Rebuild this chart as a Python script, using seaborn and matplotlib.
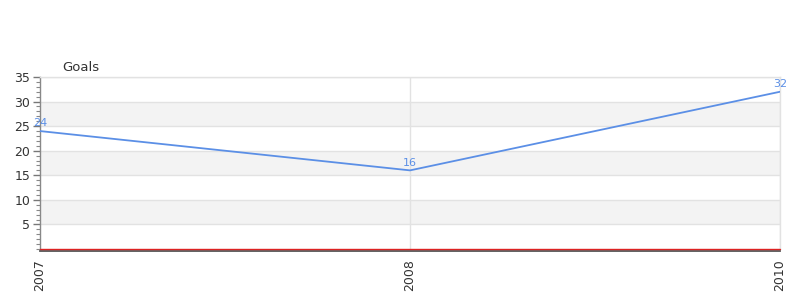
import matplotlib
matplotlib.use("Agg")
import matplotlib.pyplot as plt
import seaborn as sns
import pandas as pd
from matplotlib.ticker import MultipleLocator

years = ["2007", "2008", "2010"]
goals = [24, 16, 32]
title = "Goals"

sns.set_style("white")
plt.rcParams['font.family'] = ['DejaVu Sans']

df = pd.DataFrame({"year": years, "goals": goals})

fig = plt.figure(figsize=(8, 3), dpi=100)
ax = fig.add_axes([0.05, 0.17, 0.925, 0.5733])

line_color = "#5b8fe6"
sns.lineplot(data=df, x="year", y="goals", ax=ax, color=line_color, linewidth=1.3, zorder=5)

ax.set_ylim(0, 35)
ax.set_xlim(0, len(years) - 1)

# alternating bands
for lo in (5, 15, 25):
    ax.axhspan(lo, lo + 5, color="#f3f3f3", zorder=0, lw=0)
for y in range(5, 36, 5):
    ax.axhline(y, color="#e2e2e2", lw=1, zorder=1)
for i in range(1, len(years)):
    ax.axvline(i, color="#e2e2e2", lw=1, zorder=1)

ax.yaxis.set_major_locator(MultipleLocator(5))
ax.yaxis.set_minor_locator(MultipleLocator(1))
ax.set_yticks(range(5, 36, 5))
ax.tick_params(axis="y", which="major", direction="out", length=5, width=1, color="#777777",
               labelsize=9, labelcolor="#333333", pad=2, left=True)
ax.tick_params(axis="y", which="minor", direction="out", length=3, width=0.8, color="#888888", left=True)
ax.tick_params(axis="x", which="major", length=0, labelsize=9, labelcolor="#333333", pad=6,
               labelrotation=90)
for lbl in ax.get_xticklabels():
    lbl.set_va("top")
    lbl.set_ha("center")

for i, (yr, v) in enumerate(zip(years, goals)):
    ax.annotate(str(v), (i, v), xytext=(0, 2), textcoords="offset points",
                ha="center", va="bottom", fontsize=8, color=line_color, zorder=6,
                annotation_clip=False)

ax.set_xlabel("")
ax.set_ylabel("")

for s in ("top", "right"):
    ax.spines[s].set_color("#e2e2e2")
    ax.spines[s].set_linewidth(1)
ax.spines["left"].set_color("#888888")
ax.spines["left"].set_linewidth(1)
ax.spines["bottom"].set_color("#555555")
ax.spines["bottom"].set_linewidth(1.3)
ax.spines["bottom"].set_position(("outward", 1.5))
ax.axhline(0, color="#dd2222", lw=1, zorder=4, clip_on=False)

fig.text(62 / 800, 1 - 67 / 300, title, fontsize=9.5, color="#333333", ha="left", va="center")

fig.savefig("out.png", dpi=100, facecolor="white")
